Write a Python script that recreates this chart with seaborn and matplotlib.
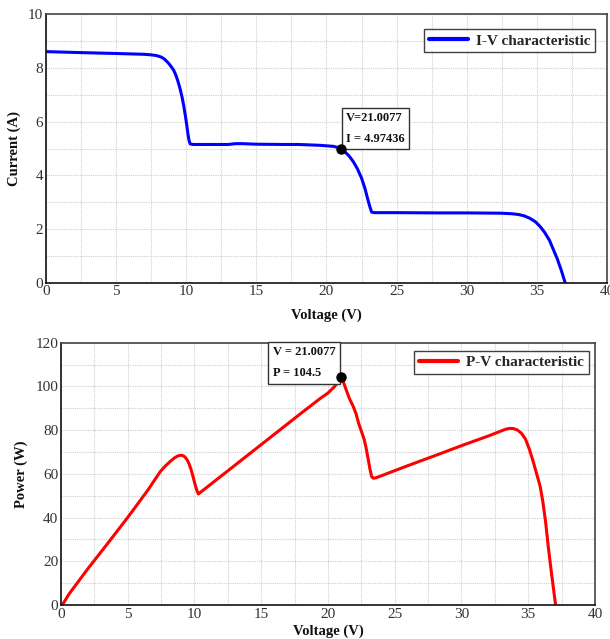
import numpy as np
import pandas as pd
import matplotlib
matplotlib.use("Agg")
import matplotlib.pyplot as plt
from matplotlib.ticker import MultipleLocator
import seaborn as sns

# I-V characteristic of the partially shaded PV array
iv_voltage = [0, 2, 5, 7, 7.5, 7.9, 8.2, 8.45, 8.7, 8.9, 9.1, 9.25, 9.4, 9.55,
              9.7, 9.82, 9.93, 10.03, 10.12, 10.2, 10.28, 10.5, 11, 13, 13.5,
              14, 15, 17, 18, 19.5, 20.5, 20.8, 21.0077, 21.3, 21.6, 21.9, 22.2,
              22.5, 22.75, 22.95, 23.1, 23.22, 23.4, 25, 28, 30, 32.4, 33.2,
              33.7, 34.1, 34.5, 34.9, 35.24, 35.55, 35.9, 36.19, 36.45, 36.75,
              37.02]
iv_current = [8.61, 8.58, 8.54, 8.51, 8.49, 8.46, 8.41, 8.33, 8.2, 8.07, 7.92,
              7.75, 7.52, 7.25, 6.92, 6.6, 6.25, 5.9, 5.55, 5.3, 5.17, 5.15,
              5.15, 5.15, 5.18, 5.18, 5.16, 5.15, 5.15, 5.12, 5.08, 5.04,
              4.97436, 4.88, 4.73, 4.52, 4.25, 3.9, 3.5, 3.1, 2.82, 2.63, 2.61,
              2.61, 2.6, 2.6, 2.59, 2.57, 2.54, 2.49, 2.4, 2.27, 2.09, 1.88,
              1.58, 1.22, 0.9, 0.45, 0.0]

# P-V characteristic
pv_voltage = [0, 0.2, 0.45, 0.6, 2, 3.5, 5.04, 6.5, 7.42, 7.8, 8.2, 8.5, 8.75,
              8.95, 9.15, 9.3, 9.45, 9.6, 9.75, 9.9, 10.05, 10.2, 10.29, 12, 14,
              16, 18, 19.4, 20.0, 20.5, 21.0077, 21.3, 21.6, 21.9, 22.1, 22.3,
              22.5, 22.7, 22.85, 23.0, 23.15, 23.27, 23.4, 23.6, 26, 28, 30, 32,
              32.8, 33.3, 33.6, 33.9, 34.2, 34.5, 34.8, 35.1, 35.4, 35.7, 35.9,
              36.1, 36.3, 36.5, 36.7, 36.9, 37.05]
pv_power = [0, 1.0, 3.5, 5.0, 16.5, 28.2, 40.4, 52.5, 60.9, 63.5, 65.8, 67.3,
            68.2, 68.5, 68.3, 67.6, 66.4, 64.5, 61.8, 58.5, 55.0, 52.0, 50.8,
            59.0, 68.6, 78.2, 87.8, 94.4, 97.0, 100.0, 104.5, 99.5, 94.5, 90.7,
            87.5, 83.0, 79.5, 76.0, 72.0, 67.0, 62.0, 58.7, 58.0, 58.2, 63.8,
            68.3, 72.9, 77.3, 79.2, 80.4, 80.8, 80.7, 80.0, 78.5, 75.8, 71.0,
            65.0, 58.5, 54.1, 47.0, 38.0, 26.7, 16.5, 7.0, 0.0]

# maximum power point
mpp_voltage = 21.0077
mpp_current = 4.97436
mpp_power = 104.5

iv_df = pd.DataFrame({"Voltage": iv_voltage, "Current": iv_current})
pv_df = pd.DataFrame({"Voltage": pv_voltage, "Power": pv_power})

sns.set_theme(style="white")
plt.rcParams["font.family"] = ["Liberation Serif", "DejaVu Serif"]

fig = plt.figure(figsize=(6.10, 6.39), dpi=100)
ax1 = fig.add_axes([0.0754, 0.5576, 0.9196, 0.4200])
ax2 = fig.add_axes([0.1000, 0.0532, 0.8754, 0.4105])

label_font = dict(fontsize=10.5, fontweight="bold", color="#111111")
box_font = dict(fontsize=9, fontweight="bold", color="#111111")
legend_prop = dict(family=["Liberation Serif"], weight="bold", size=11)


def style_axes(ax, ymax, ymajor, yminor):
    ax.set_xlim(0, 40)
    ax.set_ylim(0, ymax)
    ax.xaxis.set_major_locator(MultipleLocator(5))
    ax.xaxis.set_minor_locator(MultipleLocator(2.5))
    ax.yaxis.set_major_locator(MultipleLocator(ymajor))
    ax.yaxis.set_minor_locator(MultipleLocator(yminor))
    ax.grid(True, which="both", color="#cfcfcf", linestyle=(0, (1, 1)), linewidth=0.8)
    ax.set_axisbelow(True)
    ax.tick_params(which="major", direction="in", length=3.5, width=0.8,
                   labelsize=11, labelcolor="#333333", color="#222222", pad=2)
    ax.tick_params(which="minor", direction="in", length=2, width=0.6, color="#222222")
    for side in ["left", "bottom"]:
        ax.spines[side].set_color("#111111")
        ax.spines[side].set_linewidth(1.2)
    for side in ["top", "right"]:
        ax.spines[side].set_color("#444444")
        ax.spines[side].set_linewidth(1.2)
        ax.spines[side].set_visible(True)


def style_legend(leg):
    leg.get_frame().set_linewidth(1.0)
    for line in leg.get_lines():
        line.set_linewidth(3)


# --- I-V curve ---
sns.lineplot(data=iv_df, x="Voltage", y="Current", ax=ax1, color="#0000ff",
             linewidth=2.2, label="I-V characteristic", sort=False,
             solid_joinstyle="round", solid_capstyle="round")
style_axes(ax1, 10, 2, 1)
ax1.set_xlabel("Voltage (V)", labelpad=7, **label_font)
ax1.set_ylabel("Current (A)", labelpad=5, **label_font)
ax1.plot([mpp_voltage], [mpp_current], "o", color="black", markersize=6.5, zorder=5)
ax1.annotate(f"V={mpp_voltage}\nI = {mpp_current}", xy=(mpp_voltage, mpp_current),
             xytext=(4, 3), textcoords="offset points", ha="left", va="bottom",
             multialignment="left", linespacing=2.0, zorder=4,
             bbox=dict(boxstyle="square,pad=0.35", fc="white", ec="#333333", lw=1.0),
             **box_font)
leg1 = ax1.legend(loc="upper right", bbox_to_anchor=(0.979, 0.944), borderaxespad=0,
                  frameon=True, fancybox=False, edgecolor="#111111", handlelength=2.6,
                  handletextpad=0.5, borderpad=0.3, prop=legend_prop)
style_legend(leg1)

# --- P-V curve ---
sns.lineplot(data=pv_df, x="Voltage", y="Power", ax=ax2, color="#ff0000",
             linewidth=2.2, label="P-V characteristic", sort=False,
             solid_joinstyle="round", solid_capstyle="round")
style_axes(ax2, 120, 20, 10)
ax2.set_xlabel("Voltage (V)", labelpad=3, **label_font)
ax2.set_ylabel("Power (W)", labelpad=5, **label_font)
ax2.plot([mpp_voltage], [mpp_power], "o", color="black", markersize=6.5, zorder=5)
ax2.annotate(f"V = {mpp_voltage}\nP = {mpp_power}", xy=(20.55, 103.3),
             xycoords="data", ha="right", va="bottom", multialignment="left",
             linespacing=2.0, zorder=4,
             bbox=dict(boxstyle="square,pad=0.35", fc="white", ec="#333333", lw=1.0),
             **box_font)
leg2 = ax2.legend(loc="upper right", bbox_to_anchor=(0.988, 0.9695), borderaxespad=0,
                  frameon=True, fancybox=False, edgecolor="#111111", handlelength=2.6,
                  handletextpad=0.5, borderpad=0.3, prop=legend_prop)
style_legend(leg2)

fig.savefig("out.png", dpi=100)
